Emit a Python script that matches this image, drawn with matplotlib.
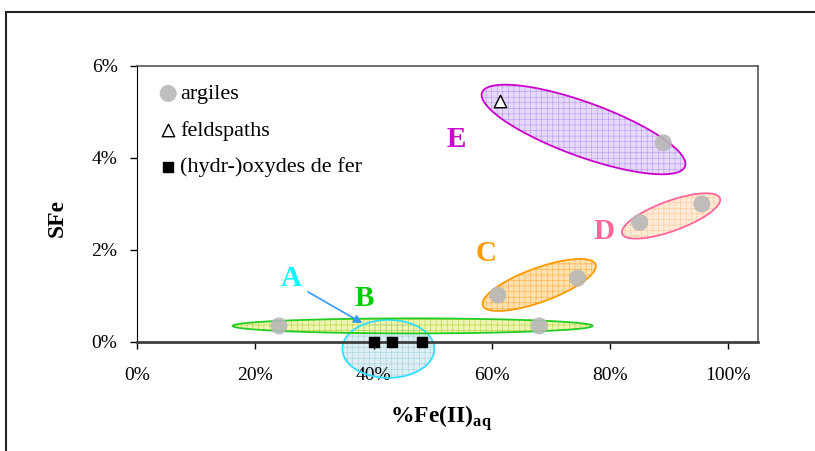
import numpy as np
import matplotlib
matplotlib.use('Agg')
import matplotlib.pyplot as plt
from matplotlib.patches import Polygon, Rectangle

plt.rcParams['font.family'] = ['Liberation Serif', 'DejaVu Serif']
plt.rcParams['mathtext.fontset'] = 'custom'
plt.rcParams['mathtext.rm'] = 'Liberation Serif'
plt.rcParams['mathtext.bf'] = 'Liberation Serif:bold'
plt.rcParams['hatch.linewidth'] = 0.4

# donnees
argiles_x = [0.24, 0.68, 0.61, 0.745, 0.85, 0.955, 0.89]
argiles_y = [0.0035, 0.0035, 0.0102, 0.0139, 0.026, 0.030, 0.0433]
feld_x = [0.613]
feld_y = [0.0524]
oxy_x = [0.40, 0.432, 0.482]
oxy_y = [0.0, 0.0, 0.0]

# groupes: centre (x, y), demi-axes en pixels, angle, couleurs
groupes = ['A', 'B', 'C', 'D', 'E']
centres_x = [0.425, 0.466, 0.680, 0.903, 0.755]
centres_y = [-0.0015, 0.0035, 0.0124, 0.0274, 0.0462]
demi_a = [46, 180, 60, 52, 108]
demi_b = [29, 7.5, 17, 15, 27]
angles = [0, 0, 20, 20, -20]
bords = ['#33DDFF', '#22CC22', '#FF9900', '#FF6699', '#CC00CC']
remplis = ['#DCEFF4', '#EEF5B0', '#FFE0B0', '#FFEBD8', '#E6DAFA']
hachures = ['#A8D0DC', '#B8D040', '#FFB040', '#FFC898', '#B898F0']
lettres_x = [0.26, 0.385, 0.59, 0.79, 0.54]
lettres_y = [0.0138, 0.0095, 0.0192, 0.0241, 0.044]
lettres_c = ['#00FFFF', '#00CC00', '#FF9900', '#FF6699', '#CC00CC']

fig = plt.figure(figsize=(8.15, 4.51), dpi=100)
ax = fig.add_axes([137/815, 1-342/451, (758-137)/815, (342-66)/451])
ax.set_xlim(0, 1.05)
ax.set_ylim(0, 0.06)

# cadre exterieur
fig.patches.append(Rectangle((6/815, -0.05), 1.2, 1-12/451+0.05, transform=fig.transFigure,
                             fill=False, edgecolor='#222222', linewidth=1.5))

# conversion pixels -> donnees
px_x = 1.05 / (758-137)
px_y = 0.06 / (342-66)
t = np.linspace(0, 2*np.pi, 200)
for i in range(len(groupes)):
    th = np.radians(angles[i])
    u = demi_a[i]*np.cos(t)
    v = demi_b[i]*np.sin(t)
    xs = centres_x[i] + (u*np.cos(th) - v*np.sin(th))*px_x
    ys = centres_y[i] + (u*np.sin(th) + v*np.cos(th))*px_y
    pts = np.column_stack([xs, ys])
    ax.add_patch(Polygon(pts, closed=True, facecolor=remplis[i], edgecolor='none',
                         clip_on=False, zorder=1))
    ax.add_patch(Polygon(pts, closed=True, facecolor='none', edgecolor=hachures[i],
                         hatch='+++', linewidth=0, clip_on=False, zorder=1.5))
    ax.add_patch(Polygon(pts, closed=True, facecolor='none', edgecolor=bords[i],
                         linewidth=1.3, clip_on=False, zorder=2))
    ax.text(lettres_x[i], lettres_y[i], groupes[i], color=lettres_c[i], fontsize=21,
            fontweight='bold', ha='center', va='center', zorder=5)

ax.annotate('', xy=(0.385, 0.0038), xytext=(0.285, 0.0112),
            arrowprops=dict(arrowstyle='-|>', color='#3399FF', lw=1.2, mutation_scale=12), zorder=6)

ax.scatter(argiles_x, argiles_y, s=150, color='#B8B8B8', edgecolor='none', zorder=3, alpha=0.9,
           label='argiles')
ax.scatter(feld_x, feld_y, s=80, marker='^', facecolor='white', edgecolor='black', linewidth=1.0,
           zorder=4, label='feldspaths')
ax.scatter(oxy_x, oxy_y, s=55, marker='s', color='black', zorder=4, clip_on=False,
           label='(hydr-)oxydes de fer')

leg = ax.legend(loc='upper left', bbox_to_anchor=(0.018, 0.968), frameon=False, fontsize=16,
                handletextpad=0.05, labelspacing=0.72, handlelength=1.0, borderaxespad=0)

ax.set_xticks(np.arange(0, 1.01, 0.2))
ax.set_xticklabels([f'{int(round(v*100))}%' for v in np.arange(0, 1.01, 0.2)])
ax.set_yticks(np.arange(0, 0.061, 0.02))
ax.set_yticklabels([f'{int(round(v*100))}%' for v in np.arange(0, 0.061, 0.02)])
ax.tick_params(axis='both', labelsize=14, direction='out', length=5, width=1, colors='black')
ax.tick_params(axis='x', pad=13)
ax.tick_params(axis='y', pad=9)

for s in ['top', 'right']:
    ax.spines[s].set_color('#555555')
    ax.spines[s].set_linewidth(1.2)
ax.spines['left'].set_color('black')
ax.spines['bottom'].set_color('#404040')
ax.spines['bottom'].set_linewidth(2)

ax.set_ylabel('SFe', fontsize=17, fontweight='bold')
ax.yaxis.set_label_coords(-0.112, 0.45)
ax.set_xlabel(r'%Fe(II)$_{\mathbf{aq}}$', fontsize=17, fontweight='bold')
ax.xaxis.set_label_coords(0.49, -0.222)

fig.savefig('out.png', dpi=100)
